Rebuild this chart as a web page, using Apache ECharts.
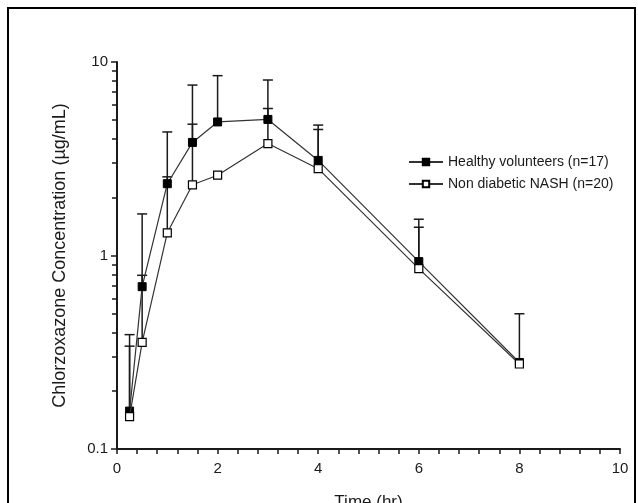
<!DOCTYPE html>
<html>
<head>
<meta charset="utf-8">
<style>
    html, body { margin: 0; padding: 0; background: #fff; }
    #chart { width: 638px; height: 503px; }
</style>
<script src="https://cdn.jsdelivr.net/npm/echarts@6.0.0/dist/echarts.min.js"></script>
</head>
<body>
<div id="chart"></div>
<script>
const times = [0.25, 0.5, 1, 1.5, 2, 3, 4, 6, 8];
const healthyMean = [0.157, 0.69, 2.35, 3.84, 4.9, 5.05, 3.1, 0.93, 0.28];
const healthyUpper = [0.39, 1.64, 4.35, 7.6, 8.5, 8.07, 4.72, 1.54, null];
const nashMean = [0.147, 0.356, 1.31, 2.32, 2.6, 3.79, 2.81, 0.855, 0.275];
const nashUpper = [0.34, 0.79, 2.55, 4.77, null, 5.75, 4.48, 1.4, 0.5];
const xTicks = [0, 2, 4, 6, 8, 10];
const yTicks = [0.1, 1, 10];

(() => {
    const chart = echarts.init(document.getElementById("chart"), null, { renderer: "canvas" });
    const fontFamily = "Liberation Sans, Arial, sans-serif";
    const ink = "#1a1a1a";

    const pairs = (means) => times.map((t, i) => [t, means[i]]);

    const errorData = (means, uppers) => times
        .map((t, i) => [t, means[i], uppers[i]])
        .filter((row) => row[2] != null);

    const renderError = (params, api) => {
        const base = api.coord([api.value(0), api.value(1)]);
        const top = api.coord([api.value(0), api.value(2)]);
        const half = 5;
        return {
            type: "group",
            children: [
                {
                    type: "line",
                    shape: { x1: base[0], y1: base[1], x2: top[0], y2: top[1] },
                    style: { stroke: ink, lineWidth: 1.5 }
                },
                {
                    type: "line",
                    shape: { x1: top[0] - half, y1: top[1], x2: top[0] + half, y2: top[1] },
                    style: { stroke: ink, lineWidth: 1.5 }
                }
            ]
        };
    };

    const option = {
        animation: false,
        textStyle: { fontFamily },
        graphic: [
            {
                type: "rect",
                shape: { x: 8, y: 8, width: 627, height: 520 },
                style: { fill: "none", stroke: "#000", lineWidth: 2 },
                silent: true
            }
        ],
        grid: { left: 117, right: 18, top: 62, bottom: 54, outerBoundsMode: "none" },
        legend: {
            left: 403,
            top: 150,
            orient: "vertical",
            itemGap: 8,
            itemWidth: 34,
            itemHeight: 8,
            data: ["Healthy volunteers (n=17)", "Non diabetic NASH (n=20)"],
            textStyle: { color: ink, fontSize: 14, fontFamily }
        },
        xAxis: {
            type: "value",
            min: 0,
            max: 10,
            interval: 2,
            name: "Time (hr)",
            nameLocation: "middle",
            nameGap: 45,
            nameTextStyle: { color: ink, fontSize: 17, fontFamily },
            axisLine: { onZero: false, lineStyle: { color: ink, width: 2 } },
            axisTick: { show: true, inside: false, length: 5, lineStyle: { color: ink, width: 1.5 } },
            minorTick: { show: true, splitNumber: 5, length: 5, lineStyle: { color: ink, width: 1.5 } },
            splitLine: { show: false },
            axisLabel: {
                color: ink,
                fontSize: 15,
                margin: 12,
                formatter: (v) => (xTicks.includes(v) ? String(v) : "")
            }
        },
        yAxis: {
            type: "log",
            logBase: 10,
            min: 0.1,
            max: 10,
            name: "Chlorzoxazone Concentration (µg/mL)",
            nameLocation: "middle",
            nameGap: 48,
            nameTextStyle: { color: ink, fontSize: 18, fontFamily },
            axisLine: { show: true, onZero: false, lineStyle: { color: ink, width: 2 } },
            axisTick: { show: true, inside: false, length: 6, lineStyle: { color: ink, width: 1.5 } },
            minorTick: { show: true, splitNumber: 9, length: 5, lineStyle: { color: ink, width: 1.5 } },
            splitLine: { show: false },
            minorSplitLine: { show: false },
            axisLabel: {
                color: ink,
                fontSize: 15,
                margin: 9,
                formatter: (v) => {
                    const hit = yTicks.find((t) => Math.abs(t - v) / t < 1e-6);
                    return hit == null ? "" : String(hit);
                }
            }
        },
        series: [
            {
                type: "custom",
                name: "healthy-sd",
                renderItem: renderError,
                data: errorData(healthyMean, healthyUpper),
                encode: { x: 0, y: [1, 2] },
                z: 1,
                silent: true
            },
            {
                type: "custom",
                name: "nash-sd",
                renderItem: renderError,
                data: errorData(nashMean, nashUpper),
                encode: { x: 0, y: [1, 2] },
                z: 1,
                silent: true
            },
            {
                type: "line",
                name: "Healthy volunteers (n=17)",
                data: pairs(healthyMean),
                symbol: "rect",
                symbolSize: 8,
                lineStyle: { color: "#333", width: 1.2 },
                itemStyle: { color: "#000", borderColor: "#000", borderWidth: 1 },
                z: 3
            },
            {
                type: "line",
                name: "Non diabetic NASH (n=20)",
                data: pairs(nashMean),
                symbol: "rect",
                symbolSize: 8,
                lineStyle: { color: "#333", width: 1.2 },
                itemStyle: { color: "#fff", borderColor: "#000", borderWidth: 1.2 },
                z: 4
            }
        ]
    };

    chart.setOption(option);
})();
</script>
</body>
</html>
